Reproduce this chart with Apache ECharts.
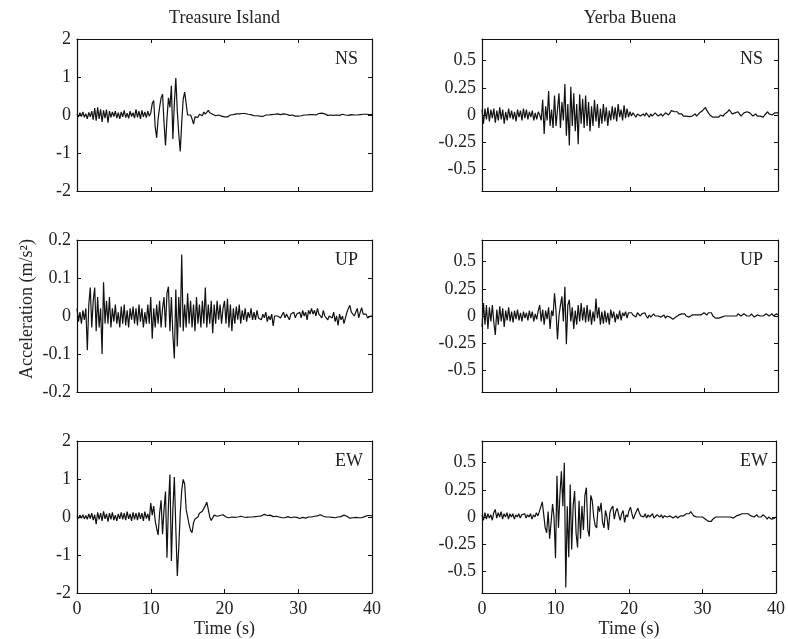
<!DOCTYPE html>
<html>
<head>
<meta charset="utf-8">
<script src="https://cdn.jsdelivr.net/npm/echarts@6/dist/echarts.min.js"></script>
<style>html,body{margin:0;padding:0;background:#fff}#c{width:788px;height:639px}</style>
</head>
<body>
<div id="c"></div>
<script>
// Time axis sampling (s), 0.2 s step, 0..40
const STEP = 0.2;
const N = 201;
const xTicks = [0, 10, 20, 30, 40];
const colTitles = ['Treasure Island', 'Yerba Buena'];
const compLabels = ['NS', 'UP', 'EW'];
const yTicksRight = [-0.5, -0.25, 0, 0.25, 0.5];

// Treasure Island NS (m/s^2)
const tiNS = [
 0.02,-0.05,0.06,-0.04,0.08,-0.06,0.03,-0.1,0.07,-0.05,
 0.1,-0.12,0.18,-0.15,0.2,-0.1,0.15,-0.18,0.12,-0.08,
 0.14,-0.2,0.1,-0.06,0.08,-0.04,0.1,-0.08,0.06,-0.1,
 0.08,-0.05,0.12,-0.07,0.05,-0.09,0.1,-0.04,0.06,-0.08,
 0.15,-0.06,0.1,-0.1,0.12,-0.05,0.08,-0.07,0.1,-0.03,
 0.05,0.3,0.38,-0.3,-0.6,-0.1,0.2,0.45,0.55,-0.2,
 -0.8,-0.1,0.45,0.2,0.77,-0.63,0.3,0.97,0.1,-0.5,
 -0.96,-0.2,0.42,0.6,0.55,0.0,0.05,0.0,-0.1,-0.24,
 -0.05,0.0,-0.06,0.02,0.05,-0.02,0.08,0.02,0.05,0.12,
 0.06,0.1,0.02,0.03,-0.02,0.01,0.0,-0.01,-0.03,-0.04,
 -0.05,-0.04,-0.05,-0.02,0.0,0.02,0.01,0.04,0.03,0.05,
 0.03,0.05,0.04,0.06,0.04,0.03,0.02,0.0,0.01,-0.01,
 -0.02,-0.03,-0.02,-0.04,-0.03,-0.05,-0.04,-0.02,0.0,0.01,
 0.0,0.02,0.01,0.0,0.02,0.01,0.03,0.02,0.01,0.02,
 0.03,0.01,0.02,0.0,-0.01,0.01,0.0,-0.02,-0.03,-0.04,
 -0.03,-0.04,-0.02,-0.01,0.0,0.01,0.0,0.02,0.01,0.0,
 0.01,0.02,0.0,0.03,0.04,0.03,0.05,0.02,0.03,0.0,
 -0.01,-0.02,0.0,-0.03,-0.01,0.01,0.0,-0.02,-0.01,0.0,
 0.02,0.01,0.0,0.01,-0.01,0.0,0.01,0.02,0.0,-0.01,
 0.0,0.02,0.01,0.03,0.02,0.04,0.02,0.03,0.01,0.02,
 0.01
];
// Yerba Buena NS
const ybNS = [
 0.05,-0.08,0.06,-0.04,0.07,-0.06,0.05,-0.03,0.06,-0.07,
 0.04,-0.05,0.07,-0.04,0.05,-0.08,0.03,-0.05,0.06,-0.03,
 0.04,-0.04,0.03,-0.06,0.05,-0.02,0.04,-0.05,0.06,-0.03,
 0.05,-0.04,0.03,-0.02,0.04,-0.05,0.02,-0.04,0.03,0.0,
 -0.05,0.14,-0.175,0.08,-0.05,0.22,-0.1,0.05,-0.12,0.18,
 -0.1,0.05,0.2,-0.12,0.12,-0.05,0.285,-0.19,0.1,-0.28,
 0.26,-0.1,0.2,-0.15,0.1,-0.27,0.19,-0.08,0.15,-0.12,
 0.18,-0.1,0.12,-0.15,0.08,-0.1,0.14,-0.06,0.1,-0.12,
 0.06,-0.08,0.1,-0.06,0.07,-0.1,0.04,-0.05,0.08,-0.04,
 0.07,-0.06,0.1,-0.02,0.05,-0.05,0.09,-0.03,0.06,-0.02,
 0.03,-0.01,0.02,0.0,-0.02,0.01,0.02,-0.01,0.0,0.01,
 -0.01,0.02,0.0,-0.02,0.01,-0.01,0.0,0.02,0.01,-0.01,
 0.0,0.01,-0.01,0.0,0.02,0.01,0.0,0.02,0.04,0.05,
 0.03,0.02,0.03,0.01,0.0,0.01,-0.01,-0.02,-0.01,-0.02,
 -0.015,-0.02,-0.01,0.0,0.01,-0.01,0.0,0.02,0.03,0.04,
 0.05,0.07,0.04,0.02,0.0,-0.01,-0.02,-0.025,-0.02,-0.01,
 -0.02,0.0,0.01,-0.01,0.01,0.02,0.03,0.05,0.03,0.01,
 0.0,0.02,0.01,0.03,0.01,-0.01,0.0,0.02,0.01,0.03,
 0.04,0.02,0.01,-0.01,0.0,0.01,-0.01,-0.02,-0.01,0.0,
 -0.02,0.0,0.01,0.03,0.01,0.02,0.0,0.01,0.02,0.03,
 0.02
];
// Treasure Island UP
const tiUP = [
 0.02,-0.015,0.01,-0.02,0.015,-0.01,0.02,-0.09,0.03,0.075,
 -0.03,0.04,0.075,-0.04,0.05,-0.03,0.02,-0.1,0.089,-0.02,
 0.04,-0.02,0.05,-0.03,0.02,-0.015,0.03,-0.02,0.01,-0.03,
 0.025,-0.02,0.03,-0.025,0.015,-0.03,0.02,-0.01,0.025,-0.02,
 0.02,-0.025,0.03,-0.015,0.02,-0.03,0.01,-0.02,0.03,-0.02,
 0.05,-0.06,0.02,-0.03,0.03,-0.02,0.04,-0.03,0.02,0.05,
 -0.03,0.06,0.077,-0.04,0.05,-0.05,-0.112,0.07,-0.08,0.05,
 -0.03,0.162,-0.04,0.03,-0.03,0.06,-0.02,0.04,-0.03,0.03,
 -0.04,0.05,-0.02,0.03,-0.03,0.04,-0.02,0.075,-0.03,0.03,
 -0.02,0.04,-0.045,0.03,-0.02,0.04,-0.01,0.03,-0.02,0.02,
 0.04,-0.02,0.045,-0.03,0.03,-0.04,0.02,-0.02,0.025,-0.01,
 0.03,-0.02,0.015,-0.01,0.02,-0.015,0.01,-0.005,0.02,-0.01,
 0.01,-0.01,0.015,-0.005,0.0,-0.01,0.005,-0.005,0.01,-0.015,
 0.0,-0.01,0.005,-0.026,0.0,-0.005,0.0,0.005,-0.005,0.0,
 0.01,-0.005,0.005,0.0,-0.01,0.005,0.0,0.01,-0.005,0.005,
 0.0,0.01,-0.005,0.015,0.0,0.01,-0.01,0.015,0.005,0.02,
 0.005,0.015,0.0,0.02,0.005,0.01,-0.005,0.015,0.0,0.005,
 -0.01,0.0,0.005,-0.005,0.01,-0.015,0.0,-0.025,0.005,-0.01,
 0.0,-0.02,-0.025,0.01,0.02,0.028,0.01,0.005,0.0,0.01,
 0.02,-0.005,0.01,0.022,0.005,0.0,0.005,-0.005,0.0,0.0,
 0.0
];
// Yerba Buena UP
const ybUP = [
 -0.1,0.12,-0.08,0.1,-0.12,0.08,-0.05,0.1,-0.06,-0.175,
 0.06,-0.08,0.09,-0.05,0.07,-0.1,0.05,-0.04,0.08,-0.05,
 0.04,-0.06,0.05,-0.03,0.06,-0.04,0.03,-0.05,0.04,-0.02,
 0.03,-0.04,0.05,-0.02,0.04,-0.05,0.02,-0.03,0.05,0.1,
 -0.05,0.06,-0.08,0.05,-0.03,0.08,-0.12,0.05,0.0,0.21,
 0.05,-0.215,0.0,0.1,0.18,-0.05,0.27,-0.26,0.1,0.15,
 -0.05,0.08,-0.12,0.05,-0.08,0.1,-0.05,0.12,-0.04,0.08,
 -0.06,0.1,-0.05,0.06,-0.08,0.04,-0.05,0.16,-0.02,0.08,
 -0.08,0.04,-0.07,0.05,-0.06,0.03,-0.08,0.06,-0.02,0.04,
 -0.06,0.02,-0.03,0.05,-0.04,0.03,0.0,0.04,-0.02,0.03,
 0.02,0.03,0.01,0.02,-0.01,0.03,0.02,0.0,0.02,0.01,
 0.03,0.0,-0.02,0.01,-0.01,0.0,0.02,0.0,-0.01,0.0,
 0.01,-0.01,0.0,0.01,-0.02,0.0,0.01,-0.01,-0.02,-0.03,
 -0.02,-0.01,0.0,0.01,0.0,0.02,0.01,0.02,0.0,0.01,
 -0.01,0.0,0.01,0.0,0.01,0.02,0.01,0.0,0.01,0.02,
 0.03,0.02,0.01,0.03,0.045,0.03,0.0,-0.01,-0.02,-0.03,
 -0.02,-0.03,-0.01,-0.02,0.0,-0.01,0.0,0.01,0.0,-0.01,
 0.0,0.01,0.0,0.02,0.01,0.0,0.01,0.02,0.01,0.0,
 0.01,0.0,0.02,0.01,-0.01,0.0,0.01,0.02,0.0,0.01,
 0.0,-0.01,0.02,0.01,0.0,-0.01,0.02,0.0,0.01,0.02,
 0.01
];
// Treasure Island EW
const tiEW = [
 0.02,-0.04,0.05,-0.03,0.06,-0.05,0.04,-0.06,0.08,-0.04,
 0.1,-0.08,0.06,-0.19,0.12,-0.06,0.1,-0.1,0.15,-0.05,
 0.08,-0.12,0.1,-0.06,0.12,-0.08,0.05,-0.1,0.08,-0.05,
 0.12,-0.06,0.1,-0.08,0.14,-0.05,0.08,-0.1,0.12,-0.06,
 0.1,-0.08,0.12,-0.05,0.1,-0.1,0.14,-0.04,0.08,-0.1,
 0.37,0.05,0.29,-0.1,-0.3,-0.47,0.1,0.44,-0.45,0.2,
 0.67,-1.07,0.3,1.12,-1.16,0.2,1.05,-0.3,-1.55,-0.8,
 0.1,0.7,0.99,0.87,0.2,0.0,-0.2,-0.35,-0.41,-0.15,
 -0.05,-0.08,0.0,0.1,0.05,0.15,0.2,0.3,0.39,0.2,
 0.0,-0.09,-0.02,0.05,0.1,0.02,-0.02,0.04,0.0,0.06,
 0.05,0.0,0.04,-0.02,0.03,0.0,0.05,-0.01,0.03,0.0,
 -0.03,0.02,-0.02,0.0,-0.03,-0.01,0.02,0.0,0.01,0.0,
 0.02,0.01,0.03,0.02,0.01,0.03,0.05,0.07,0.05,0.04,
 0.03,0.05,0.02,0.01,0.0,0.02,0.01,0.0,-0.01,-0.02,
 -0.03,-0.02,-0.01,0.01,0.0,-0.02,-0.03,0.0,0.01,-0.01,
 -0.03,-0.04,-0.02,-0.01,-0.02,-0.03,-0.02,0.0,-0.01,0.0,
 0.01,0.02,0.01,0.03,0.04,0.06,0.04,0.02,0.01,0.0,
 -0.01,0.0,-0.02,-0.01,0.0,-0.02,-0.01,0.0,0.02,0.01,
 0.03,0.05,0.06,0.02,0.0,-0.03,-0.04,-0.02,0.0,-0.01,
 -0.03,-0.02,-0.01,-0.02,0.0,0.01,0.02,0.04,0.03,0.04,
 0.03
];
// Yerba Buena EW
const ybEW = [
 0.02,-0.03,0.04,-0.02,0.03,-0.01,0.02,-0.03,0.04,0.07,
 -0.01,0.04,0.0,0.05,-0.02,0.03,0.0,0.04,-0.02,0.03,
 0.0,0.03,-0.02,0.02,0.0,0.03,-0.01,0.02,0.01,0.03,
 -0.01,0.02,0.0,0.03,-0.02,0.02,0.0,0.04,0.01,0.05,
 0.04,0.14,0.02,-0.1,-0.145,0.05,-0.2,-0.05,0.12,0.0,
 -0.38,0.38,-0.1,0.2,0.42,0.1,0.5,-0.65,0.1,-0.37,
 0.3,-0.3,0.1,0.24,-0.15,-0.28,0.15,-0.2,0.1,-0.12,
 0.2,0.27,-0.12,-0.18,0.2,0.15,0.0,-0.08,-0.1,0.1,
 0.05,0.13,-0.05,-0.1,0.06,0.0,-0.12,0.04,0.08,0.1,
 -0.02,0.05,0.08,0.02,-0.03,0.03,0.06,-0.05,0.02,0.0,
 0.06,0.09,0.03,-0.02,0.02,0.05,0.08,0.04,0.01,0.02,
 0.0,0.03,-0.01,0.02,0.0,0.01,0.03,-0.01,0.0,0.02,
 0.01,0.0,0.02,-0.01,0.01,0.02,0.0,-0.01,0.01,0.0,
 -0.01,0.0,0.01,-0.01,0.0,0.01,0.0,0.01,0.02,0.03,
 0.02,0.03,0.05,0.03,0.01,0.02,0.0,0.01,0.0,-0.01,
 0.0,-0.01,-0.02,-0.03,-0.04,-0.05,-0.04,-0.02,-0.01,0.0,
 -0.01,0.0,0.01,0.0,-0.01,0.0,0.01,0.0,-0.01,0.0,
 0.0,-0.01,0.0,0.01,0.0,0.02,0.01,0.03,0.02,0.03,
 0.02,0.03,0.02,0.01,0.02,0.0,0.01,0.02,0.0,0.01,
 0.0,0.02,0.01,0.0,-0.02,0.0,-0.01,-0.02,-0.01,-0.01,
 0.0
];

const time = Array.from({length: N}, (_, i) => Math.round(i * STEP * 10) / 10);
const pair = arr => arr.map((v, i) => [time[i], v]);

const FONT = 'Liberation Serif';
const TXT = '#222';
const AX = '#111';

const panels = [
  {data: tiNS, row: 0, col: 0, lab: compLabels[0], yr: [-2, 2], iv: 1},
  {data: ybNS, row: 0, col: 1, lab: compLabels[0], yr: [-0.7, 0.7], custom: yTicksRight},
  {data: tiUP, row: 1, col: 0, lab: compLabels[1], yr: [-0.2, 0.2], iv: 0.1},
  {data: ybUP, row: 1, col: 1, lab: compLabels[1], yr: [-0.7, 0.7], custom: yTicksRight},
  {data: tiEW, row: 2, col: 0, lab: compLabels[2], yr: [-2, 2], iv: 1},
  {data: ybEW, row: 2, col: 1, lab: compLabels[2], yr: [-0.7, 0.7], custom: yTicksRight}
];
const lefts = [77, 482], widths = [295, 296];
const tops = [39, 240, 441], H = 152;

const grid = [], xAxis = [], yAxis = [], series = [], graphic = [];
panels.forEach((p, g) => {
  grid.push({left: lefts[p.col], top: tops[p.row], width: widths[p.col], height: H, containLabel: false});
  const bottomRow = p.row === 2;
  const xBase = {
    type: 'value', gridIndex: g, min: 0, max: 40, interval: 10,
    axisLine: {show: true, onZero: false, lineStyle: {color: AX, width: 1.2}},
    axisTick: {show: true, inside: true, length: 4, lineStyle: {color: AX}},
    splitLine: {show: false}
  };
  xAxis.push(Object.assign({}, xBase, {
    position: 'bottom',
    axisLabel: {show: bottomRow, fontFamily: FONT, fontSize: 18, color: TXT, margin: 7},
    name: bottomRow ? 'Time (s)' : '', nameLocation: 'middle', nameGap: 27,
    nameTextStyle: {fontFamily: FONT, fontSize: 18, color: TXT}
  }));
  xAxis.push(Object.assign({}, xBase, {position: 'top', axisLabel: {show: false}}));
  const yBase = {
    type: 'value', gridIndex: g, min: p.yr[0], max: p.yr[1],
    axisLine: {show: true, onZero: false, lineStyle: {color: AX, width: 1.2}},
    splitLine: {show: false}
  };
  if (p.iv) yBase.interval = p.iv;
  const tick = {show: true, inside: true, length: 4, lineStyle: {color: AX}};
  if (p.custom) tick.customValues = p.custom;
  const lab = {show: true, fontFamily: FONT, fontSize: 18, color: TXT, margin: 6};
  if (p.custom) lab.customValues = p.custom;
  yAxis.push(Object.assign({}, yBase, {position: 'left', axisTick: tick, axisLabel: lab}));
  yAxis.push(Object.assign({}, yBase, {position: 'right', axisTick: tick, axisLabel: {show: false}}));
  series.push({
    type: 'line', xAxisIndex: 2 * g, yAxisIndex: 2 * g, data: pair(p.data),
    showSymbol: false, symbol: 'none', smooth: false,
    lineStyle: {color: '#111', width: 1.2}, z: 1
  });
  graphic.push({
    type: 'text', left: lefts[p.col] + 258, top: tops[p.row] + 11,
    style: {text: p.lab, font: '18px "' + FONT + '"', fill: TXT}
  });
});
colTitles.forEach((t, c) => {
  graphic.push({
    type: 'text', x: lefts[c] + widths[c] / 2, y: 18,
    style: {text: t, font: '18px "' + FONT + '"', fill: TXT, textAlign: 'center', textVerticalAlign: 'middle'}
  });
});
graphic.push({
  type: 'text', x: 27, y: 309, rotation: Math.PI / 2,
  style: {text: 'Acceleration (m/s²)', font: '18px "' + FONT + '"', fill: TXT, textAlign: 'center', textVerticalAlign: 'middle'}
});

const chart = echarts.init(document.getElementById('c'), null, {renderer: 'canvas'});
chart.setOption({
  animation: false,
  backgroundColor: '#fff',
  grid, xAxis, yAxis, series, graphic
});
</script>
</body>
</html>
